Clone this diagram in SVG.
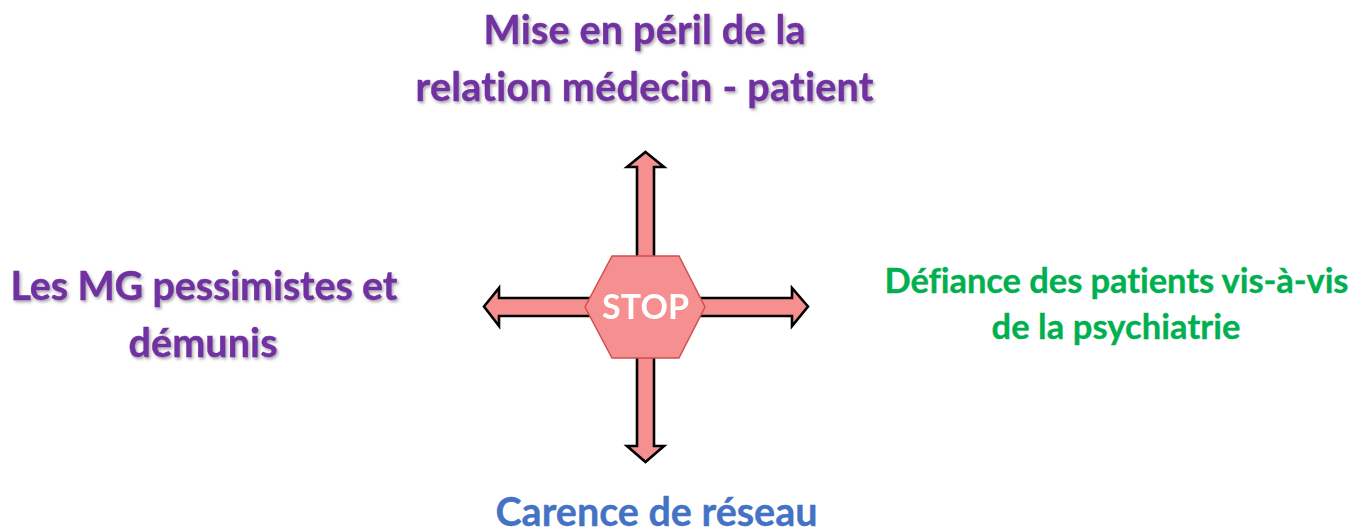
<svg xmlns="http://www.w3.org/2000/svg" width="1365" height="529" viewBox="0 0 1365 529">
<style>
.t{font-family:"Lato","Open Sans","Liberation Sans",sans-serif;font-weight:700;text-anchor:middle;font-variant-ligatures:none;stroke-width:.35}
.p{fill:#7030a0;stroke:#7030a0;font-size:39.5px;filter:url(#sh)}
.g{fill:#00b050;stroke:#00b050;font-size:34.5px}
.b{fill:#4472c4;stroke:#4472c4;font-size:39.5px}
.a{fill:#f68f8f;stroke:#000;stroke-width:2.6;stroke-linejoin:miter}
</style>
<defs>
<filter id="sh" x="-5%" y="-20%" width="110%" height="150%"><feDropShadow dx="1.5" dy="2" stdDeviation="1.5" flood-color="#000" flood-opacity="0.35"/></filter>
<filter id="soft" x="-5%" y="-5%" width="110%" height="110%"><feGaussianBlur stdDeviation="0.5"/></filter>
</defs>
<rect width="1365" height="529" fill="#fff"/>
<g id="connectors" filter="url(#soft)">
<path class="a" d="M645.5 152L664 167H654V260H637V167H627Z"/>
<path class="a" d="M645.5 462L664 446H654V355H637V446H627Z"/>
<path class="a" d="M484 306.5L499 288V298H590V316H499V326Z"/>
<path class="a" d="M808 306.5L792 288V298H700V316H792V326Z"/>
</g>
<g id="stop" filter="url(#soft)">
<polygon points="612,256 679,256 705,307 679,358 612,358 585,307" fill="#f68f8f" stroke="#d05050" stroke-width="1.5"/>
<text class="t" x="645.5" y="319" font-size="34" fill="#fff" textLength="87">STOP</text>
</g>
<g id="top"><text class="t p" x="644.5" y="44" textLength="322">Mise en péril de la</text><text class="t p" x="644.5" y="101" textLength="458">relation médecin - patient</text></g>
<g id="left"><text class="t p" x="204" y="300" textLength="387">Les MG pessimistes et</text><text class="t p" x="203" y="357" textLength="149">démunis</text></g>
<g id="right"><text class="t g" x="1116.5" y="293" textLength="464">Défiance des patients vis-à-vis</text><text class="t g" x="1116" y="339" textLength="249">de la psychiatrie</text></g>
<g id="bottom"><text class="t b" x="656.5" y="526" textLength="322">Carence de réseau</text></g>
</svg>
